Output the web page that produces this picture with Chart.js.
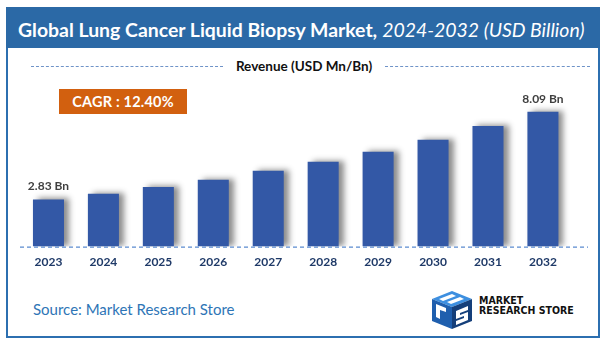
<!DOCTYPE html>
<html>
<head>
<meta charset="utf-8">
<script src="https://cdn.jsdelivr.net/npm/chart.js@4.4.1/dist/chart.umd.min.js"></script>
<style>
    html, body { margin: 0; padding: 0; background: #fff; }
    body { width: 610px; height: 345px; position: relative; overflow: hidden; font-family: Lato, "Open Sans", sans-serif; }
    .frame { position: absolute; left: 6px; top: 7px; width: 594px; height: 331px; box-sizing: border-box; border: 2px solid #2c6fb0; }
    .header { position: absolute; left: 6px; top: 7px; width: 594px; height: 41px; background: #2b69a6; }
    .title { position: absolute; left: 18px; top: 29px; transform: translateY(-50%); color: #fff; font-size: 21px; white-space: nowrap; }
    .title b { font-weight: 700; }
    .title i { font-weight: 400; font-style: italic; }
    .sub { position: absolute; top: 66px; transform: translateY(-50%); font-weight: 700; font-size: 13.5px; color: #111; white-space: nowrap; }
    .dash { position: absolute; top: 66px; border-top: 1px dashed #6f93c8; height: 0; }
    .cagr { position: absolute; left: 59px; top: 89px; width: 128px; height: 25px; background: #d2600f; color: #fff; font-weight: 700; font-size: 14.5px; line-height: 25px; text-align: center; letter-spacing: 0.2px; }
    .chart-box { position: absolute; left: 0; top: 80px; width: 610px; height: 200px; }
    .source { position: absolute; left: 33px; top: 309px; transform: translateY(-50%); color: #2e75b6; font-size: 15px; white-space: nowrap; }
    .logo { position: absolute; left: 430px; top: 289px; }
    .logo-text { position: absolute; left: 479px; top: 295px; font-family: "DejaVu Sans Condensed", "Liberation Sans Narrow", Roboto, sans-serif; font-weight: 700; font-size: 10.5px; line-height: 10px; color: #111; white-space: nowrap; }
</style>
</head>
<body>
<div class="frame"></div>
<div class="header"></div>
<div class="title" id="title"><b>Global Lung Cancer Liquid Biopsy Market,</b> <i>2024-2032 (USD Billion)</i></div>

<div class="dash" style="left:31px;width:192px;"></div>
<div class="sub" id="sub">Revenue (USD Mn/Bn)</div>
<div class="dash" style="left:385px;width:205px;"></div>

<div class="cagr">CAGR : 12.40%</div>

<div class="chart-box"><canvas id="marketChart"></canvas></div>

<div class="source">Source: Market Research Store</div>
<svg class="logo" width="46" height="40" viewBox="0 0 46 40">
    <polygon points="2,10 22,2 42,10 22,18" fill="#3d8fe0"/>
    <polygon points="9,10 22,5 26,7 13,12" fill="#ffffff"/>
    <polygon points="17,13 30,8 34,10 21,15" fill="#ffffff"/>
    <polygon points="2,10 22,18 22,40 2,32" fill="#1f5fae"/>
    <polygon points="22,18 42,10 42,32 22,40" fill="#153f7a"/>
    <polygon points="6,15 16,19 16,23 10,21 10,30 6,28" fill="#ffffff"/>
    <polygon points="26,22 38,17 38,21 30,24 30,26 38,23 38,31 26,36 26,32 34,29 34,27 26,30" fill="#ffffff"/>
</svg>
<div class="logo-text">MARKET<br>RESEARCH STORE</div>

<script>
    const years = ['2023', '2024', '2025', '2026', '2027', '2028', '2029', '2030', '2031', '2032'];
    const revenue = [2.83, 3.17, 3.57, 4.02, 4.55, 5.09, 5.69, 6.41, 7.24, 8.09];
    const valueLabels = ['2.83 Bn', '', '', '', '', '', '', '', '', '8.09 Bn'];

    // squeeze or stretch text so it spans the same width as in the picture
    function fitWidth(el, target) {
        let size = parseFloat(getComputedStyle(el).fontSize);
        for (let i = 0; i < 30; i++) {
            const w = el.getBoundingClientRect().width;
            if (Math.abs(w - target) < 1) break;
            size = size * target / w;
            el.style.fontSize = size + 'px';
        }
    }

    const subEl = document.getElementById('sub');
    fitWidth(document.getElementById('title'), 567);
    fitWidth(subEl, 137);
    subEl.style.left = (304 - subEl.getBoundingClientRect().width / 2) + 'px';

    const barShadow = {
        id: 'barShadow',
        beforeDatasetsDraw(chart) {
            const ctx = chart.ctx;
            ctx.save();
            ctx.shadowColor = 'rgba(0,0,0,0.45)';
            ctx.shadowBlur = 6;
            ctx.shadowOffsetX = 5;
            ctx.shadowOffsetY = -1;
        },
        afterDatasetsDraw(chart) {
            chart.ctx.restore();
        }
    };

    const extras = {
        id: 'extras',
        afterDatasetsDraw(chart) {
            const ctx = chart.ctx;
            const y0 = chart.scales.y.getPixelForValue(0);
            ctx.save();
            ctx.strokeStyle = '#5b8bd0';
            ctx.lineWidth = 1.2;
            ctx.setLineDash([4, 3]);
            ctx.beginPath();
            ctx.moveTo(20, y0 + 0.5);
            ctx.lineTo(588, y0 + 0.5);
            ctx.stroke();
            ctx.setLineDash([]);

            const meta = chart.getDatasetMeta(0);
            ctx.fillStyle = '#404040';
            ctx.font = 'bold 12px Lato, sans-serif';
            ctx.textAlign = 'center';
            ctx.textBaseline = 'middle';
            meta.data.forEach((bar, i) => {
                if (valueLabels[i]) ctx.fillText(valueLabels[i], bar.x, bar.y - 13);
            });
            ctx.restore();
        }
    };

    new Chart(document.getElementById('marketChart').getContext('2d'), {
        type: 'bar',
        data: {
            labels: years,
            datasets: [{
                label: 'Revenue (USD Bn)',
                data: revenue,
                backgroundColor: '#3358a6',
                borderWidth: 0,
                categoryPercentage: 1,
                barPercentage: 0.565
            }]
        },
        options: {
            responsive: true,
            maintainAspectRatio: false,
            animation: false,
            layout: { padding: { left: 21, right: 39.6, top: 0, bottom: 3 } },
            plugins: { legend: { display: false }, tooltip: { enabled: false } },
            scales: {
                x: {
                    grid: { display: false, drawTicks: false },
                    border: { display: false },
                    ticks: { color: '#1f3a68', font: { family: 'Lato', size: 12, weight: 'bold' }, padding: 8 }
                },
                y: {
                    display: false,
                    min: 0,
                    max: 10
                }
            }
        },
        plugins: [barShadow, extras]
    });
</script>
</body>
</html>
